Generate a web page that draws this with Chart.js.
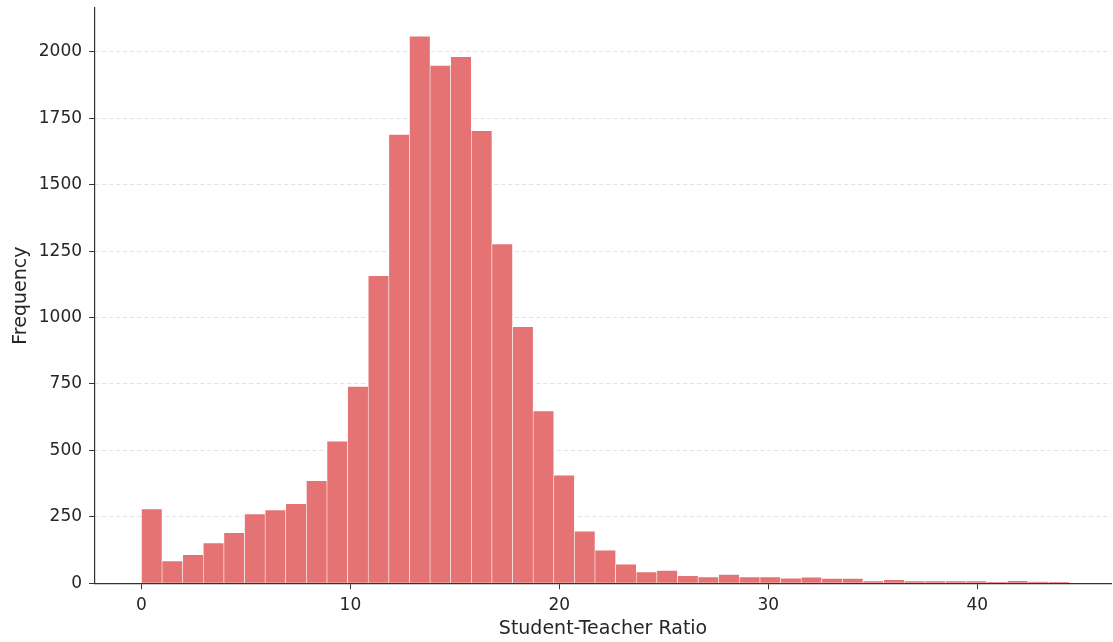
<!DOCTYPE html>
<html>
<head>
<meta charset="utf-8">
<title>Student-Teacher Ratio</title>
<script src="https://cdn.jsdelivr.net/npm/chart.js@4.4.1/dist/chart.umd.min.js"></script>
<style>
  html, body { margin: 0; padding: 0; background: #fff; overflow: hidden; }
  #chart-box { width: 1113px; height: 642px; }
</style>
</head>
<body>
<div id="chart-box"><canvas id="myChart"></canvas></div>
<script>
'use strict';

// ******* DATA *******
let binMin = 0;
let binMax = 44.4;
let counts = [281, 85, 109, 153, 191, 262, 277, 301, 387, 536,
  742, 1159, 1690, 2060, 1950, 1983, 1705, 1278, 967, 650,
  408, 197, 126, 73, 44, 49, 30, 25, 34, 25,
  25, 20, 24, 19, 19, 10, 15, 10, 10, 10,
  10, 5, 11, 6, 5];
let xTicks = [0, 10, 20, 30, 40];
let yTicks = [0, 250, 500, 750, 1000, 1250, 1500, 1750, 2000];

// ***** HELPERS *****
let binWidth = (binMax - binMin) / counts.length;

function histPoints() {
  let points = [];
  for (let i = 0; i < counts.length; i++) {
    points.push({ x: binMin + (i + 0.5) * binWidth, y: counts[i] });
  }
  return points;
}

function fixedTicks(values) {
  return function (scale) {
    scale.ticks = values.map(v => ({ value: v }));
  };
}

// **** RENDER CHART *****
const tickFont = { family: 'DejaVu Sans', size: 17, lineHeight: 1.0 };
const titleFont = { family: 'DejaVu Sans', size: 19 };

const data = {
  datasets: [{
    label: 'Student-Teacher Ratio',
    data: histPoints(),
    backgroundColor: 'rgb(229, 115, 115)',
    borderColor: 'rgba(255, 255, 255, 0.85)',
    borderWidth: { top: 1, left: 0.6, right: 0.6, bottom: 0 },
    borderSkipped: false,
    barPercentage: 1,
    categoryPercentage: 1
  }]
};

const config = {
  type: 'bar',
  data: data,
  options: {
    responsive: true,
    maintainAspectRatio: false,
    animation: false,
    layout: { padding: { left: 10, right: 2, top: 8, bottom: 2 } },
    plugins: {
      legend: { display: false },
      tooltip: { enabled: false }
    },
    scales: {
      x: {
        type: 'linear',
        min: -2.22,
        max: 46.4,
        offset: false,
        afterBuildTicks: fixedTicks(xTicks),
        grid: {
          offset: false,
          drawOnChartArea: false,
          tickLength: 6,
          tickColor: '#333'
        },
        border: { color: '#333', width: 1.2 },
        ticks: { font: tickFont, color: '#262626', padding: 8, maxRotation: 0 },
        title: {
          display: true,
          text: 'Student-Teacher Ratio',
          font: titleFont,
          color: '#262626',
          padding: { top: -5, bottom: 0 }
        }
      },
      y: {
        min: 0,
        max: 2165,
        afterBuildTicks: fixedTicks(yTicks),
        afterFit: scale => {
          scale.paddingTop = 0;
          scale.paddingBottom = 0;
        },
        grid: {
          color: '#e2e2e2',
          lineWidth: 1,
          tickLength: 6,
          tickColor: '#333'
        },
        border: { color: '#333', width: 1.2, dash: [4, 3] },
        ticks: {
          font: tickFont,
          color: '#262626',
          padding: 7,
          callback: value => String(value)
        },
        title: {
          display: true,
          text: 'Frequency',
          font: titleFont,
          color: '#262626',
          padding: { top: 0, bottom: -1 }
        }
      }
    }
  }
};

let canvasChart = document.getElementById('myChart');
const myChart = new Chart(canvasChart, config);
</script>
</body>
</html>
